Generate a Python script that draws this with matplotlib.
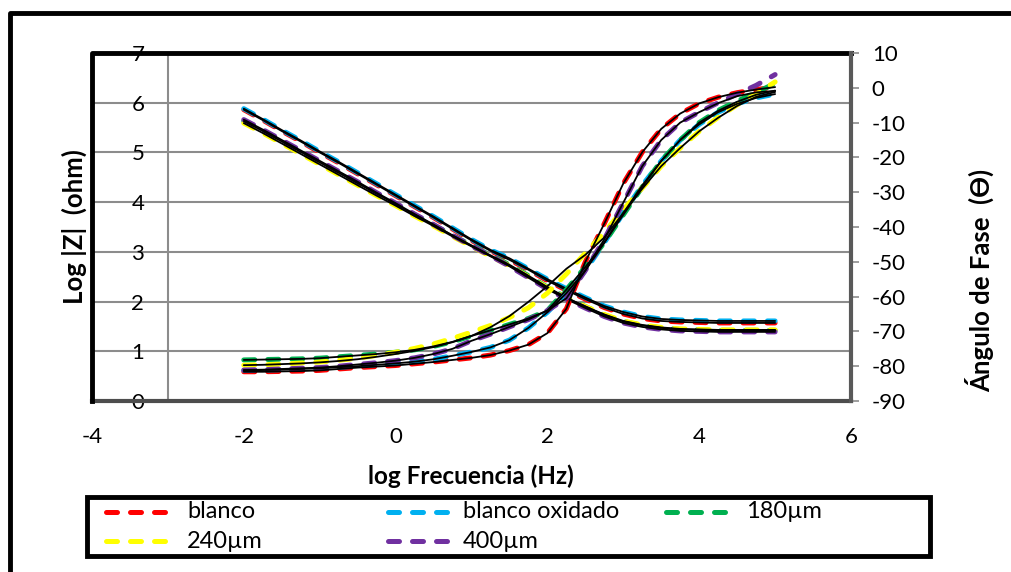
import matplotlib

matplotlib.use("Agg")

import matplotlib.pyplot as plt
from matplotlib.lines import Line2D
from matplotlib.patches import Rectangle

W, H = 1011, 572

plt.rcParams.update(
    {
        "font.family": ["Lato", "DejaVu Sans"],
        "font.size": 16,
        "axes.unicode_minus": False,
    }
)

# log de la frecuencia (Hz)
LOG_F = [-2.0, -1.75, -1.5, -1.25, -1.0, -0.75, -0.5, -0.25, 0.0, 0.25, 0.5, 0.75,
         1.0, 1.25, 1.5, 1.75, 2.0, 2.25, 2.5, 2.75, 3.0, 3.25, 3.5, 3.75, 4.0, 4.25,
         4.5, 4.75, 5.0]

# log |Z| (ohm)
Z_BLANCO = [5.86, 5.65, 5.43, 5.22, 5.00, 4.79, 4.57, 4.35, 4.13, 3.91, 3.69, 3.46,
            3.23, 3.02, 2.84, 2.64, 2.42, 2.23, 2.05, 1.88, 1.75, 1.66, 1.61, 1.59,
            1.58, 1.57, 1.57, 1.57, 1.57]
Z_OXIDADO = [5.88, 5.67, 5.45, 5.24, 5.02, 4.81, 4.59, 4.37, 4.15, 3.93, 3.71, 3.48,
             3.25, 3.04, 2.87, 2.66, 2.45, 2.26, 2.08, 1.91, 1.79, 1.70, 1.65, 1.63,
             1.62, 1.61, 1.61, 1.61, 1.61]
Z_180 = [5.63, 5.43, 5.22, 5.01, 4.80, 4.59, 4.38, 4.17, 3.96, 3.75, 3.54, 3.33,
         3.13, 2.93, 2.74, 2.52, 2.29, 2.08, 1.90, 1.73, 1.60, 1.52, 1.47, 1.44,
         1.43, 1.42, 1.42, 1.42, 1.42]
Z_240 = [5.59, 5.39, 5.18, 4.97, 4.76, 4.55, 4.34, 4.13, 3.93, 3.72, 3.52, 3.31,
         3.11, 2.91, 2.72, 2.50, 2.28, 2.07, 1.90, 1.74, 1.61, 1.53, 1.48, 1.45,
         1.44, 1.43, 1.43, 1.43, 1.43]
Z_400 = [5.66, 5.46, 5.25, 5.04, 4.83, 4.62, 4.41, 4.19, 3.98, 3.76, 3.55, 3.33,
         3.12, 2.92, 2.71, 2.48, 2.25, 2.05, 1.87, 1.70, 1.57, 1.49, 1.44, 1.41,
         1.40, 1.39, 1.39, 1.39, 1.39]

# angulo de fase (grados)
F_BLANCO = [-81.6, -81.6, -81.5, -81.4, -81.2, -80.8, -80.4, -80.1, -79.8, -79.3,
            -78.8, -78.2, -77.6, -76.8, -75.5, -73.8, -70.5, -63.5, -50.0, -39.0,
            -27.5, -18.5, -11.8, -7.4, -4.5, -2.7, -1.4, -0.5, 0.2]
F_OXIDADO = [-81.2, -81.1, -81.0, -80.8, -80.6, -80.3, -80.0, -79.6, -79.2, -78.7,
             -78.0, -77.0, -75.9, -74.6, -72.5, -69.0, -64.5, -59.0, -52.5, -44.5,
             -36.0, -28.0, -21.0, -15.0, -10.5, -7.0, -4.6, -2.9, -1.8]
F_180 = [-78.2, -78.1, -78.0, -77.9, -77.7, -77.3, -76.9, -76.5, -76.0, -75.3,
         -74.3, -73.0, -71.3, -69.7, -68.0, -66.3, -64.0, -58.0, -51.5, -44.5,
         -36.5, -28.5, -21.0, -15.0, -10.0, -6.5, -3.8, -1.4, 1.3]
F_240 = [-79.7, -79.6, -79.4, -79.1, -78.8, -78.3, -77.7, -76.9, -76.0, -74.9,
         -73.6, -72.0, -70.2, -68.3, -66.0, -63.2, -59.0, -53.5, -47.5, -41.5,
         -35.0, -28.8, -22.5, -17.3, -12.5, -8.5, -4.9, -1.8, 1.7]
F_400 = [-81.1, -81.0, -80.8, -80.6, -80.4, -80.0, -79.5, -79.0, -78.4, -77.6,
         -76.5, -75.0, -72.7, -70.8, -68.7, -66.6, -64.0, -60.5, -52.5, -43.5,
         -33.0, -22.5, -15.0, -10.0, -7.0, -4.3, -1.8, 0.7, 3.8]

# curvas de ajuste de la fase (las de |Z| coinciden con los datos)
AJ_180 = [-78.2, -78.1, -78.0, -77.9, -77.7, -77.3, -76.9, -76.5, -76.0, -75.3,
          -74.3, -73.0, -71.3, -69.7, -68.0, -66.3, -64.0, -58.0, -51.5, -44.5,
          -36.5, -28.5, -21.0, -15.0, -10.0, -6.6, -4.0, -2.0, -0.8]
AJ_240 = [-79.7, -79.6, -79.4, -79.2, -78.9, -78.5, -78.0, -77.3, -76.5, -75.6,
          -74.5, -73.1, -71.3, -68.8, -65.6, -61.5, -57.0, -52.0, -48.0, -43.0,
          -36.0, -29.0, -22.5, -17.3, -12.5, -8.6, -5.2, -2.6, -1.2]
AJ_400 = [-81.1, -81.0, -80.8, -80.6, -80.4, -80.0, -79.5, -79.0, -78.4, -77.6,
          -76.5, -75.0, -72.7, -70.8, -68.7, -66.6, -64.0, -60.5, -52.5, -43.5,
          -33.0, -22.5, -15.0, -10.0, -7.0, -4.4, -2.4, -1.3, -0.9]

NOMBRES = ["blanco", "blanco oxidado", "180µm", "240µm", "400µm"]
COLORES = ["#FF0000", "#00B0F0", "#00B050", "#FFFF00", "#7030A0"]
MODULO = [Z_BLANCO, Z_OXIDADO, Z_180, Z_240, Z_400]
FASE = [F_BLANCO, F_OXIDADO, F_180, F_240, F_400]
FASE_AJUSTE = [F_BLANCO, F_OXIDADO, AJ_180, AJ_240, AJ_400]

X_TICKS = [-4, -2, 0, 2, 4, 6]
Y_TICKS = [0, 1, 2, 3, 4, 5, 6, 7]
FASE_TICKS = [-90, -80, -70, -60, -50, -40, -30, -20, -10, 0, 10]

GRIS = "#8c8c8c"
ESTILO_DATOS = dict(lw=3.6, ls=(0, (2.2, 2.6)), dash_capstyle="round")
ESTILO_AJUSTE = dict(lw=1.3, color="black", solid_capstyle="round")


def fig_xy(x, y):
    return x / W, 1 - y / H


fig = plt.figure(figsize=(W / 100, H / 100), dpi=100)
ax = fig.add_axes([92 / W, 1 - 401 / H, (851 - 92) / W, (401 - 53) / H])
ax2 = ax.twinx()

# |Z| en el eje principal
for z, color in zip(MODULO, COLORES):
    ax.plot(LOG_F, z, color=color, zorder=3, **ESTILO_DATOS)
for z in MODULO:
    ax.plot(LOG_F, z, zorder=4, **ESTILO_AJUSTE)

# fase en el eje secundario
for f, color in zip(FASE, COLORES):
    ax2.plot(LOG_F, f, color=color, zorder=3, **ESTILO_DATOS)
for f in FASE_AJUSTE:
    ax2.plot(LOG_F, f, zorder=4, **ESTILO_AJUSTE)

ax.set_xlim(-4, 6)
ax.set_ylim(0, 7)
ax2.set_ylim(-90, 10)
ax.set_xticks(X_TICKS)
ax.set_yticks(Y_TICKS)
ax2.set_yticks(FASE_TICKS)

ax.grid(axis="y", color=GRIS, lw=1.5, zorder=0)
ax.set_axisbelow(True)

ax.spines["left"].set_position(("data", -3))
ax.spines["left"].set_color(GRIS)
ax.spines["left"].set_linewidth(1.5)
ax.spines["top"].set_visible(False)
ax.spines["right"].set_visible(False)
ax.spines["bottom"].set_color("0.3")
ax.spines["bottom"].set_linewidth(3)
for lado in ("left", "top", "bottom"):
    ax2.spines[lado].set_visible(False)
ax2.spines["right"].set_color("0.35")
ax2.spines["right"].set_linewidth(3)

ax.tick_params(axis="y", length=0, pad=17, labelsize=16)
ax.tick_params(axis="x", length=0, pad=19, labelsize=16)
ax2.tick_params(axis="y", length=6, width=1.2, color=GRIS, pad=9, labelsize=16)

# borde grueso superior e izquierdo del area de trazado
ax.plot([0, 0, 1], [0, 1, 1], transform=ax.transAxes, color="black", lw=3.5,
        clip_on=False, zorder=6, solid_capstyle="projecting")

# rotulos de los ejes
fig.text(*fig_xy(471, 476), "log Frecuencia (Hz)", ha="center", va="center",
         fontsize=17.5, fontweight="bold")
fig.text(*fig_xy(74, 227), "Log |Z|  (ohm)", ha="center", va="center",
         rotation=90, fontsize=18.5, fontweight="bold")
fig.text(*fig_xy(980, 280), "Ángulo de Fase  (Ɵ)", ha="center", va="center",
         rotation=90, fontsize=18.5, fontweight="bold")

# marco exterior del grafico
fig.add_artist(Line2D([10 / W, 10 / W, 1.01], [-0.01, 1 - 13 / H, 1 - 13 / H],
                      transform=fig.transFigure, color="black", lw=3.5))

# leyenda
fig.add_artist(Rectangle(fig_xy(87, 556), (930 - 87) / W, (556 - 497) / H,
                         transform=fig.transFigure, fill=False, ec="black", lw=3.5))
col_linea = [106, 388, 666]
col_texto = [187, 463, 746]
filas = [512, 541]
for i, (nombre, color) in enumerate(zip(NOMBRES, COLORES)):
    fila, col = divmod(i, 3)
    x0, y0 = fig_xy(col_linea[col], filas[fila])
    x1, _ = fig_xy(col_linea[col] + 62, filas[fila])
    fig.add_artist(Line2D([x0, x1], [y0, y0], transform=fig.transFigure,
                          color=color, **ESTILO_DATOS))
    fig.text(*fig_xy(col_texto[col], filas[fila]), nombre, ha="left",
             va="center", fontsize=17)

fig.savefig("out.png", dpi=100)
